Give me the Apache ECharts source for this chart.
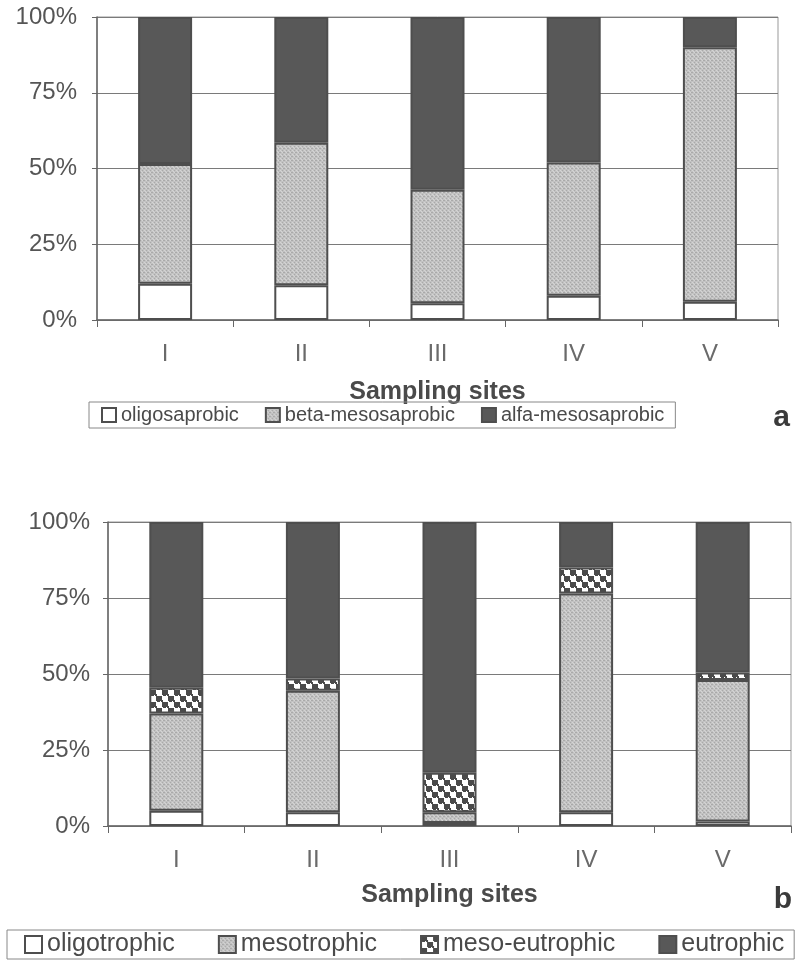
<!DOCTYPE html>
<html>
<head>
<meta charset="utf-8">
<script src="https://cdn.jsdelivr.net/npm/echarts@6/dist/echarts.min.js"></script>
<style>
  html, body { margin: 0; padding: 0; background: #fff; }
  #chart { width: 799px; height: 964px; }
</style>
</head>
<body>
<div id="chart"></div>
<script>
// Sampling sites shared by both panels
const sites = ['I', 'II', 'III', 'IV', 'V'];

// Panel a: saprobity classes (% of taxa)
const saprobicNames = ['oligosaprobic', 'beta-mesosaprobic', 'alfa-mesosaprobic'];
const oligosaprobic = [12, 11.5, 5.5, 8, 6];
const betaMesosaprobic = [39.5, 47, 37.5, 44, 84];
const alfaMesosaprobic = [48.5, 41.5, 57, 48, 10];

// Panel b: trophic classes (% of taxa)
const trophicNames = ['oligotrophic', 'mesotrophic', 'meso-eutrophic', 'eutrophic'];
const oligotrophic = [5, 4.5, 1, 4.5, 1.5];
const mesotrophic = [32, 40, 3.5, 72, 46.5];
const mesoEutrophic = [8.5, 4, 13, 8.5, 2.5];
const eutrophic = [54.5, 51.5, 82.5, 15, 49.5];

// Percentage axis
const percentMin = 0, percentMax = 100, percentStep = 25;

// Fill textures
function stippleCanvas() {
  const c = document.createElement('canvas');
  c.width = 4; c.height = 4;
  const g = c.getContext('2d');
  g.fillStyle = '#c2c2c2'; g.fillRect(0, 0, 4, 4);
  g.fillStyle = '#a9a9a9'; g.fillRect(0, 0, 1, 1); g.fillRect(2, 2, 1, 1); g.fillRect(3, 0, 1, 1);
  g.fillStyle = '#d4d4d4'; g.fillRect(2, 0, 1, 1); g.fillRect(0, 2, 1, 1); g.fillRect(1, 3, 1, 1);
  return c;
}
function blobCanvas() {
  // irregular checker of dark blobs on white
  const c = document.createElement('canvas');
  c.width = 12; c.height = 12;
  const g = c.getContext('2d');
  g.fillStyle = '#ffffff'; g.fillRect(0, 0, 12, 12);
  g.fillStyle = '#4a4a4a';
  g.fillRect(0, 0, 6, 5); g.fillRect(5, 4, 2, 2); g.fillRect(1, 5, 3, 1);
  g.fillRect(6, 6, 6, 5); g.fillRect(11, 10, 1, 2); g.fillRect(7, 11, 3, 1); g.fillRect(0, 10, 1, 2);
  return c;
}
const stipple = { image: stippleCanvas(), repeat: 'repeat' };
const blobs = { image: blobCanvas(), repeat: 'repeat' };
const dark = '#585858';
const edge = '#4e4e4e';
const textColor = '#4a4a4a';

function bar(name, data, fill, stack, axis) {
  return {
    name, type: 'bar', stack, data,
    xAxisIndex: axis, yAxisIndex: axis,
    barWidth: 54,
    itemStyle: { color: fill, borderColor: edge, borderWidth: 2 },
    emphasis: { disabled: true }
  };
}

function xAxis(grid, gap) {
  return {
    type: 'category', gridIndex: grid, data: sites,
    name: 'Sampling sites', nameLocation: 'middle', nameGap: gap,
    nameTextStyle: { fontSize: 25, fontWeight: 'bold', color: textColor, fontFamily: 'Liberation Sans' },
    axisLine: { lineStyle: { color: '#666', width: 1.5 } },
    axisTick: { show: true, length: 7, lineStyle: { color: '#666' } },
    axisLabel: { fontSize: 24, color: '#6a6a6a', margin: 22, fontFamily: 'Liberation Sans' }
  };
}
function yAxis(grid, margin) {
  return {
    type: 'value', gridIndex: grid,
    min: percentMin, max: percentMax, interval: percentStep,
    axisLine: { show: true, lineStyle: { color: '#666', width: 1.5 } },
    axisTick: { show: true, length: 5, lineStyle: { color: '#666' } },
    axisLabel: { fontSize: 24, color: '#555', margin, formatter: '{value}%', fontFamily: 'Liberation Sans' },
    splitLine: { lineStyle: { color: '#7a7a7a', width: 1 } }
  };
}

const chart = echarts.init(document.getElementById('chart'), null, { renderer: 'canvas' });
chart.setOption({
  backgroundColor: '#fff',
  animation: false,
  textStyle: { fontFamily: 'Liberation Sans' },
  title: [
    { text: 'a', right: 4, top: 398, textStyle: { fontSize: 30, fontWeight: 'bold', color: '#3a3a3a' } },
    { text: 'b', right: 2, top: 880, textStyle: { fontSize: 30, fontWeight: 'bold', color: '#3a3a3a' } }
  ],
  grid: [
    { left: 97, right: 21, top: 17, height: 303, show: true, borderColor: '#999', borderWidth: 1 },
    { left: 108, right: 8, top: 522, height: 304, show: true, borderColor: '#999', borderWidth: 1 }
  ],
  legend: [
    {
      data: saprobicNames, left: 89, top: 402, icon: 'rect',
      itemWidth: 14, itemHeight: 14, itemGap: 26,
      padding: [3, 11, 3, 12], borderColor: '#888', borderWidth: 1,
      textStyle: { fontSize: 20, color: textColor }
    },
    {
      data: trophicNames, left: 7, top: 930, icon: 'rect',
      itemWidth: 17, itemHeight: 17, itemGap: 43,
      padding: [2, 10, 2, 17], borderColor: '#888', borderWidth: 1,
      textStyle: { fontSize: 25, color: textColor }
    }
  ],
  xAxis: [xAxis(0, 60), xAxis(1, 57)],
  yAxis: [yAxis(0, 20), yAxis(1, 18)],
  series: [
    bar('oligosaprobic', oligosaprobic, '#ffffff', 'sap', 0),
    bar('beta-mesosaprobic', betaMesosaprobic, stipple, 'sap', 0),
    bar('alfa-mesosaprobic', alfaMesosaprobic, dark, 'sap', 0),
    bar('oligotrophic', oligotrophic, '#ffffff', 'tro', 1),
    bar('mesotrophic', mesotrophic, stipple, 'tro', 1),
    bar('meso-eutrophic', mesoEutrophic, blobs, 'tro', 1),
    bar('eutrophic', eutrophic, dark, 'tro', 1)
  ]
});
</script>
</body>
</html>
